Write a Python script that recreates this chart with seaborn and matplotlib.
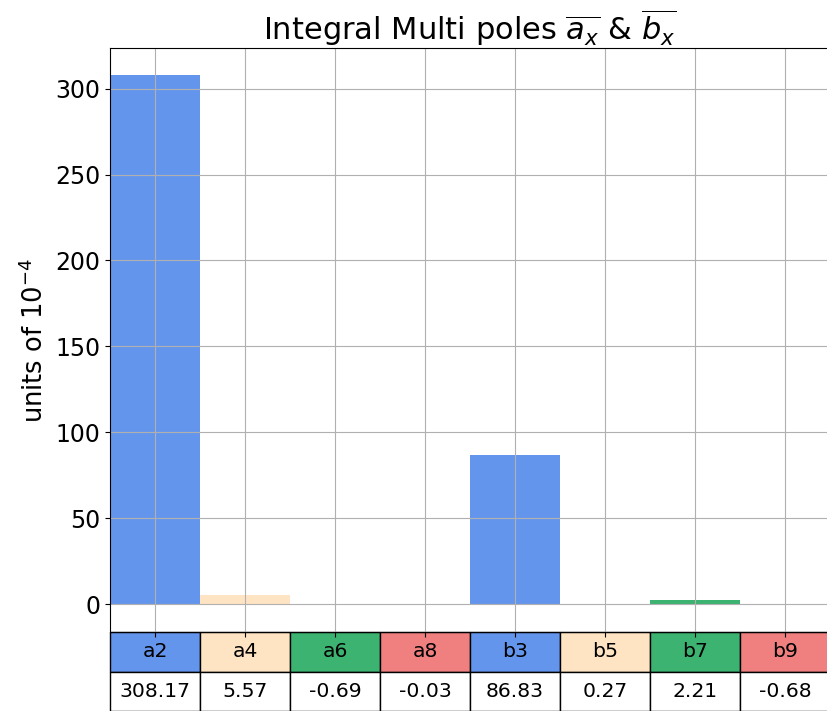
import matplotlib
matplotlib.use("Agg")
import matplotlib.pyplot as plt
import seaborn as sns
import pandas as pd

labels = ["a2", "a4", "a6", "a8", "b3", "b5", "b7", "b9"]
values = [308.17, 5.57, -0.69, -0.03, 86.83, 0.27, 2.21, -0.68]
colors = ["cornflowerblue", "bisque", "mediumseagreen", "lightcoral",
          "cornflowerblue", "bisque", "mediumseagreen", "lightcoral"]

df = pd.DataFrame({"name": labels, "value": values})

fig = plt.figure(figsize=(8.27, 7.11), dpi=100)
W, H = 827, 711
left, right, top, bottom = 110, 830, 48, 632
ax = fig.add_axes([left / W, 1 - bottom / H, (right - left) / W, (bottom - top) / H])

sns.barplot(data=df, x="name", y="value", hue="name", palette=colors,
            width=1, saturation=1, legend=False, ax=ax)
ax.set_xlim(-0.5, 7.5)
ax.margins(y=0.05)
ax.relim()
ax.autoscale_view(scalex=False)
ax.grid(True)
ax.set_xlabel("")
ax.set_xticklabels([])
ax.set_ylabel(r"units of $10^{-4}$", fontsize=18.5)
ax.tick_params(axis="y", labelsize=17)
ax.set_title(r"Integral Multi poles $\overline{a_x}$ & $\overline{b_x}$", fontsize=22)

th = (711 - bottom) / (bottom - top)
tbl = ax.table(cellText=[[f"{v:.2f}" for v in values]], colLabels=labels,
               colColours=colors, cellLoc="center",
               bbox=[0, -th, 1, th])
tbl.auto_set_font_size(False)
tbl.set_fontsize(14.7)

fig.savefig("out.png", dpi=100)
